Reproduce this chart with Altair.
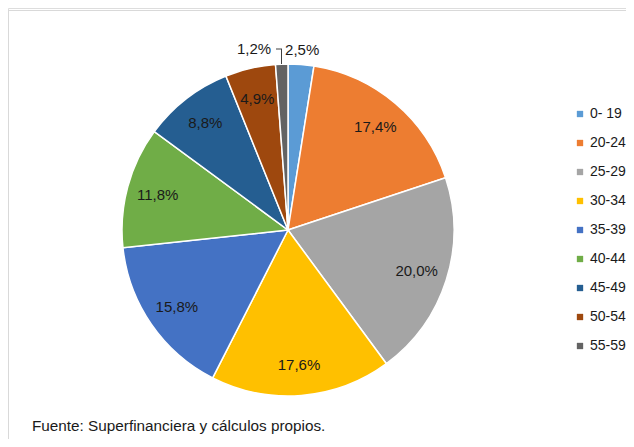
import altair as alt
import pandas as pd

categories = ["0- 19", "20-24", "25-29", "30-34", "35-39", "40-44", "45-49", "50-54", "55-59"]
values = [2.5, 17.4, 20.0, 17.6, 15.8, 11.8, 8.8, 4.9, 1.2]
colors = ["#5B9BD5", "#ED7D31", "#A5A5A5", "#FFC000", "#4472C4", "#70AD47", "#255E91", "#9E480E", "#636363"]
footnote = "Fuente: Superfinanciera y cálculos propios."

df = pd.DataFrame({"cat": categories, "value": values, "idx": list(range(len(categories)))})

CX, CY, R = 280, 222, 166
theta_scale = alt.Scale(domain=[0, 100])

base = (
    alt.Chart(df)
    .transform_window(cum="sum(value)", sort=[alt.SortField("idx")], frame=[None, 0])
    .transform_calculate(
        start="datum.cum - datum.value",
        mid="datum.cum - datum.value / 2",
        label="replace(format(datum.value, '.1f'), '.', ',') + '%'",
    )
)

arcs = base.mark_arc(radius=R, stroke="white", strokeWidth=1.5).encode(
    x=alt.value(CX),
    y=alt.value(CY),
    theta=alt.Theta("start:Q", scale=theta_scale),
    theta2="cum:Q",
    color=alt.Color(
        "cat:N",
        scale=alt.Scale(domain=categories, range=colors),
        sort=categories,
        legend=alt.Legend(
            title=None,
            orient="none",
            legendX=565,
            legendY=99,
            padding=0,
            symbolType="square",
            symbolSize=40,
            symbolStrokeWidth=0,
            labelFontSize=14,
            labelFont="Liberation Sans",
            labelColor="#1a1a1a",
            labelOffset=3,
            rowPadding=15,
            labelLimit=60,
        ),
    ),
)

txt_style = dict(font="Liberation Sans", fontSize=15, color="#1a1a1a")

inner = base.transform_filter("datum.value >= 3").mark_text(radius=135, **txt_style).encode(
    x=alt.value(CX), y=alt.value(CY),
    theta=alt.Theta("mid:Q", scale=theta_scale), text="label:N",
)
out1 = base.transform_filter("datum.cat == '0- 19'").mark_text(radius=181, **txt_style).encode(
    x=alt.value(CX), y=alt.value(CY),
    theta=alt.Theta("mid:Q", scale=theta_scale), text="label:N",
)
out2 = base.transform_filter("datum.cat == '55-59'").mark_text(radius=181, align="right", dx=-10, **txt_style).encode(
    x=alt.value(CX), y=alt.value(CY),
    theta=alt.Theta("mid:Q", scale=theta_scale), text="label:N",
)

leader_v = alt.Chart(df.head(1)).mark_rule(color="#404040", strokeWidth=1).encode(
    x=alt.value(273.5), y=alt.value(41), y2=alt.value(56)
)
leader_h = alt.Chart(df.head(1)).mark_rule(color="#404040", strokeWidth=1).encode(
    x=alt.value(268), x2=alt.value(274), y=alt.value(41)
)

frame_top = alt.Chart(df.head(1)).mark_rule(color="#d9d9d9", strokeWidth=1).encode(
    x=alt.value(0), x2=alt.value(618), y=alt.value(2.5)
)
frame_left = alt.Chart(df.head(1)).mark_rule(color="#d9d9d9", strokeWidth=1).encode(
    x=alt.value(0.5), y=alt.value(2), y2=alt.value(431)
)

foot = alt.Chart(pd.DataFrame({"t": [footnote]})).mark_text(
    align="left", baseline="alphabetic", font="Liberation Sans", fontSize=15.3, color="#1a1a1a"
).encode(x=alt.value(24), y=alt.value(423), text="t:N")

chart = (
    alt.layer(frame_top, frame_left, arcs, inner, out1, out2, leader_v, leader_h, foot)
    .properties(width=618, height=431, padding=0, autosize=alt.AutoSizeParams(type="none"))
    .configure_view(stroke=None)
    .configure(background="white")
)

chart.save("out.html", embed_options={"renderer": "svg", "actions": False})
